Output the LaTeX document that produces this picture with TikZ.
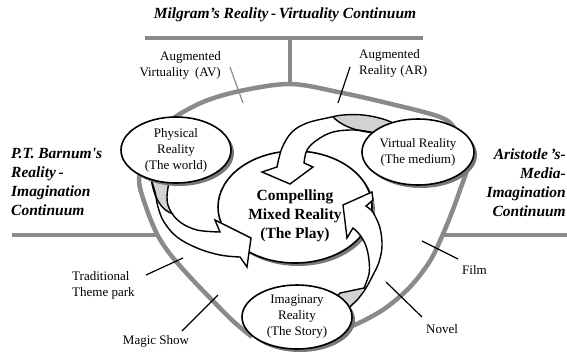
\documentclass[tikz,border=0pt]{standalone}
\usepackage{fontspec}
\setmainfont{Liberation Serif}
\usetikzlibrary{shapes.geometric,shadows}
\definecolor{rimgray}{RGB}{138,138,138}
\definecolor{backgray}{RGB}{210,210,210}
\definecolor{shadegray}{RGB}{120,120,120}

% outlines of the three curved ribbon arrows
\def\arrowone{plot[smooth,tension=0.6] coordinates {(150,176) (155,192) (158,207) (164,222) (177,237) (197,248) (220,255) (240,257)}
  -- (247,267) -- (251,238) -- (215,220)
  -- plot[smooth,tension=0.6] coordinates {(220,232) (197,230) (180,222) (170,210) (167,197) (170,176)} -- cycle}
\def\arrowtwo{plot[smooth,tension=0.6] coordinates {(400,126) (383,119) (363,115) (343,115) (327,118) (307,123) (292,132) (282,148) (277,167)}
  -- (262,172) -- (290,184) -- (313,167)
  -- plot[smooth,tension=0.6] coordinates {(304,163) (307,150) (317,140) (333,132) (355,130) (375,133) (400,139)} -- cycle}
\def\arrowthree{plot[smooth,tension=0.6] coordinates {(342,318) (350,307) (358,299) (366,288) (373,275) (379,262) (382,246) (380,228) (374,214) (370,209)}
  -- (366,206) -- (373,200) -- (372,192) -- (343,205) -- (347,238)
  -- plot[smooth,tension=0.6] coordinates {(353,228) (360,235) (366,246) (369,260) (369,274) (364,288)}
  -- (340,293) -- (330,305) -- cycle}

\begin{document}
\begin{tikzpicture}[x=1pt,y=-1pt,
  rim/.style={draw=rimgray,line width=4.5pt},
  leader/.style={draw=black,line width=1.2pt},
  band/.style={draw=black,line width=1.4pt,line join=miter},
  world/.style={ellipse,draw=black,line width=1.6pt,fill=white,inner sep=0pt,align=center,
    font=\fontsize{13}{16}\selectfont,
    drop shadow={shadow xshift=3pt,shadow yshift=-3pt,fill=shadegray,opacity=1}},
  lbl/.style={font=\fontsize{13}{16}\selectfont,inner sep=0pt},
  axis/.style={font=\fontsize{15.5}{19}\bfseries\itshape\selectfont,inner sep=0pt}]
\useasboundingbox (0,0) rectangle (567,354);

% continuum bars and the rim of the bowl
\coordinate (tl) at (145,38);
\coordinate (tr) at (423,38);
\coordinate (stemtop) at (290,38);
\coordinate (peak) at (290,84);
\coordinate (ll) at (12,235);
\coordinate (lr) at (157,235);
\coordinate (rl) at (443,235);
\coordinate (rr) at (567,235);
\draw[rim] (tl) -- (tr);
\draw[rim] (stemtop) -- (peak);
\draw[rim] (ll) -- (lr);
\draw[rim] (rl) -- (rr);
\draw[rim,line join=round] plot[smooth,tension=0.55] coordinates {
  (252,337) (233,321) (213,301) (190,277) (170,254) (157,234) (146,207) (139,180) (146,156) (159,133)
  (172,119) (203,102) (240,91) (290,84) (338,92) (387,103) (440,117) (456,130) (464,148)
  (467,168) (460,190) (452,212) (443,234) (430,261) (410,287) (387,307) (367,319) (350,327) (335,334)};

% leader lines
\coordinate (av1) at (230,67);  \coordinate (av2) at (243,103);
\coordinate (ar1) at (350,67);  \coordinate (ar2) at (338,103);
\coordinate (tp1) at (146,275); \coordinate (tp2) at (183,258);
\coordinate (ms1) at (182,331); \coordinate (ms2) at (218,295);
\coordinate (fm1) at (422,241); \coordinate (fm2) at (458,259);
\coordinate (nv1) at (386,282); \coordinate (nv2) at (422,317);
\draw[leader,draw=rimgray] (av1) -- (av2);
\draw[leader] (ar1) -- (ar2);
\draw[leader] (tp1) -- (tp2);
\draw[leader] (ms1) -- (ms2);
\draw[leader] (fm1) -- (fm2);
\draw[leader] (nv1) -- (nv2);

% the central play
\node[world,minimum width=154pt,minimum height=112pt] (play) at (295,207) {};
\node[font=\fontsize{15.5}{19}\bfseries\selectfont,align=center,inner sep=0pt] (playtext) at (295,216)
  {Compelling\\Mixed Reality\\(The Play)};

% ribbon arrows feeding the play
\fill[white] \arrowone;
\fill[backgray] (151,178) .. controls (154,198) and (161,210) .. (173,214)
  -- plot[smooth] coordinates {(170,210) (167,197) (170,176)} -- cycle;
\draw[band] (151,178) .. controls (154,198) and (161,210) .. (173,214);
\draw[band] \arrowone;

\fill[white] \arrowtwo;
\fill[backgray] (333,117) -- plot[smooth] coordinates {(343,115) (363,115) (383,119) (400,126)}
  -- (400,139) -- (375,133) .. controls (355,131) and (342,126) .. (333,117);
\draw[band] (333,117) .. controls (342,126) and (355,131) .. (375,133);
\draw[band] \arrowtwo;

\fill[white] \arrowthree;
\fill[backgray] (364,288) -- (340,293) -- (330,305) -- (342,318) -- (350,307) -- (358,299) -- cycle;
\draw[band] \arrowthree;

% the three realities
\node[world,minimum width=110pt,minimum height=66pt] (phys) at (176,150) {Physical\\Reality\\(The world)};
\node[world,minimum width=112pt,minimum height=66pt] (virt) at (418,152) {Virtual Reality\\(The medium)};
\node[world,minimum width=110pt,minimum height=64pt] (imag) at (297,317) {Imaginary\\Reality\\(The Story)};

% continuum names
\node[axis] (milgram) at (285,15) {Milgram’s Reality\,-\,Virtuality Continuum};
\node[axis,align=left,anchor=west] (barnum) at (11,182)
  {P.T. Barnum\textquotesingle s\\Reality\,-\\Imagination\\Continuum};
\node[axis,align=right,anchor=east] (aristotle) at (566,183)
  {Aristotle\,’s-\\Media-\\Imagination\\Continuum};

% media labels
\node[lbl,align=right,anchor=east] (avlabel) at (221,65) {Augmented\\Virtuality\;\,(AV)};
\node[lbl,align=left,anchor=west] (arlabel) at (359,63) {Augmented\\Reality\;(AR)};
\node[lbl,align=left,anchor=west] (park) at (72,285) {Traditional\\Theme park};
\node[lbl] (magic) at (156,341) {Magic Show};
\node[lbl,anchor=west] (film) at (462,270) {Film};
\node[lbl] (novel) at (442,329) {Novel};
\end{tikzpicture}
\end{document}
